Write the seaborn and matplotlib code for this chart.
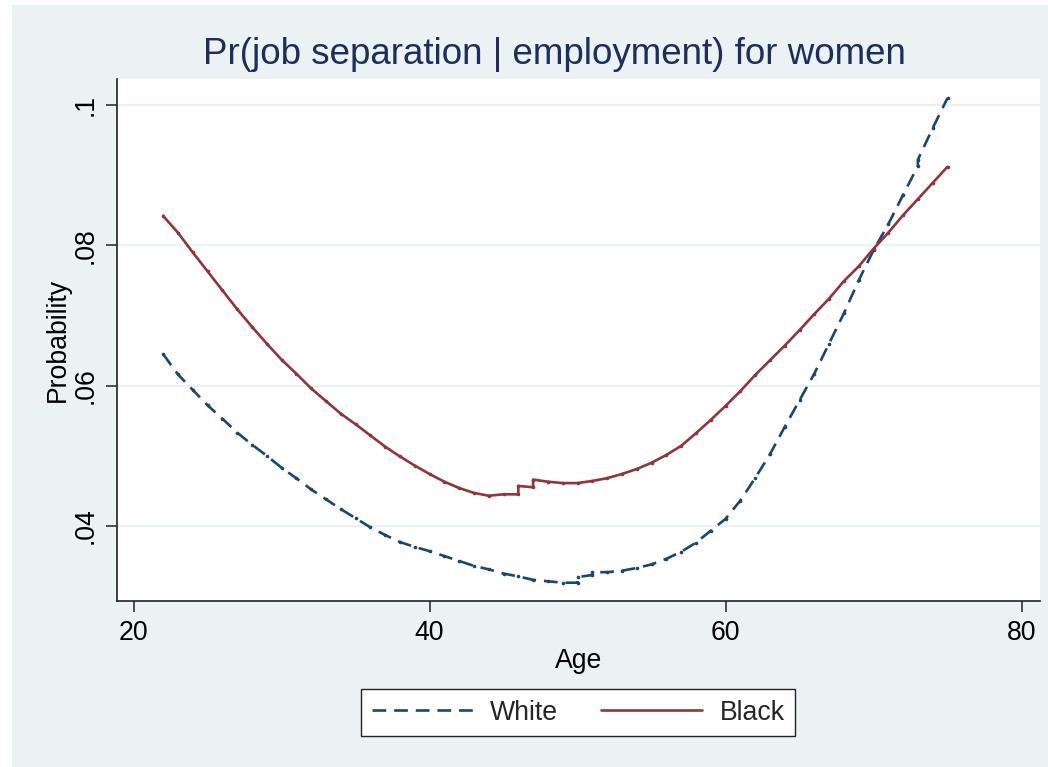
import matplotlib
matplotlib.use("Agg")
import matplotlib.pyplot as plt
import matplotlib.patches as mpatches
from matplotlib.lines import Line2D
import seaborn as sns
import pandas as pd

# ---- data ----
white_age = [22, 23, 24, 25, 26, 27, 28, 29, 30, 31, 32, 33, 34, 35, 36, 37, 38, 39, 40,
             41, 42, 43, 44, 45, 46, 47, 48, 49, 50, 50, 51, 51, 52, 53, 54, 55, 56, 57, 58,
             59, 60, 61, 62, 63, 64, 65, 66, 67, 68, 69, 70, 71, 72, 73, 73, 74, 75]
white_prob = [0.0645, 0.0616, 0.0594, 0.0572, 0.0553, 0.0533, 0.0516, 0.0500, 0.0483, 0.0468,
              0.0452, 0.0438, 0.0424, 0.0411, 0.0398, 0.0387, 0.0377, 0.0370, 0.0364,
              0.0357, 0.0350, 0.0343, 0.0338, 0.0332, 0.0328, 0.0323, 0.0321, 0.0319,
              0.0319, 0.0327, 0.0330, 0.0334, 0.0334, 0.0336, 0.0340, 0.0345, 0.0353,
              0.0363, 0.0376, 0.0393, 0.0410, 0.0436, 0.0468, 0.0502, 0.0541, 0.0579,
              0.0617, 0.0660, 0.0703, 0.0750, 0.0793, 0.0830, 0.0872, 0.0913, 0.0922,
              0.0967, 0.1010]

black_age = [22, 23, 24, 25, 26, 27, 28, 29, 30, 31, 32, 33, 34, 35, 36, 37, 38, 39, 40,
             41, 42, 43, 44, 45, 46, 46, 47, 47, 48, 49, 50, 51, 52, 53, 54, 55, 56, 57, 58,
             59, 60, 61, 62, 63, 64, 65, 66, 67, 68, 69, 70, 71, 72, 73, 74, 75]
black_prob = [0.0842, 0.0818, 0.0790, 0.0763, 0.0736, 0.0709, 0.0684, 0.0660, 0.0637,
              0.0617, 0.0596, 0.0578, 0.0560, 0.0545, 0.0529, 0.0513, 0.0499, 0.0486,
              0.0474, 0.0463, 0.0454, 0.0447, 0.0443, 0.0445, 0.0445, 0.0457, 0.0455,
              0.0466, 0.0463, 0.0461, 0.0461, 0.0464, 0.0468, 0.0474, 0.0481, 0.0490,
              0.0501, 0.0514, 0.0532, 0.0551, 0.0571, 0.0592, 0.0615, 0.0636, 0.0657,
              0.0679, 0.0702, 0.0724, 0.0749, 0.0770, 0.0795, 0.0818, 0.0843, 0.0866,
              0.0889, 0.0912]

x_ticks = [20, 40, 60, 80]
y_ticks = [0.04, 0.06, 0.08, 0.10]
y_tick_labels = [".04", ".06", ".08", ".1"]
series_names = ["White", "Black"]

# ---- style ----
sns.set_theme(style="white")
plt.rcParams["font.family"] = ["Liberation Sans", "DejaVu Sans"]

BG = "#EAF2F3"
BLUE = "#1A476F"
RED = "#90353B"
TITLE_C = "#1E2D5A"
FS = 19.2

W, H = 1048, 767
fig = plt.figure(figsize=(W / 100, H / 100), dpi=100)
fig.patch.set_facecolor("white")
fig.patches.append(mpatches.Rectangle((12 / W, 0), 1 - 12 / W, 1 - 5 / H,
                                      transform=fig.transFigure, facecolor=BG,
                                      edgecolor="none", zorder=-10))

ax = fig.add_axes([117 / W, 1 - 601 / H, (1040 - 117) / W, (601 - 79) / H])
ax.set_facecolor("white")

df_w = pd.DataFrame({"Age": white_age, "Probability": white_prob})
df_b = pd.DataFrame({"Age": black_age, "Probability": black_prob})

lw = 1.9
sns.lineplot(data=df_w, x="Age", y="Probability", ax=ax, color=BLUE, lw=lw,
             estimator=None, sort=False, marker="o", markersize=2.6,
             markeredgewidth=0, zorder=3)
ax.lines[-1].set_dashes((5.2, 3.0))
sns.lineplot(data=df_b, x="Age", y="Probability", ax=ax, color=RED, lw=lw,
             estimator=None, sort=False, marker="o", markersize=2.6,
             markeredgewidth=0, zorder=3)

ax.set_xlim(18.885, 81.25)
ax.set_ylim(0.02929, 0.10371)
ax.set_xticks(x_ticks)
ax.set_xticklabels([str(t) for t in x_ticks])
ax.set_yticks(y_ticks)
ax.set_yticklabels(y_tick_labels, rotation=90, va="center")

for yt in y_ticks:
    ax.axhline(yt, color=BG, lw=1.6, zorder=1)

for s in ["top", "right"]:
    ax.spines[s].set_visible(False)
for s in ["left", "bottom"]:
    ax.spines[s].set_color("#222222")
    ax.spines[s].set_linewidth(1.2)

ax.tick_params(axis="both", which="major", direction="out", length=8, width=1.2,
               color="#333333", labelsize=FS, labelcolor="black", pad=6)
ax.tick_params(axis="x", bottom=True)
ax.tick_params(axis="y", left=True, pad=5)

ax.set_xlabel("Age", fontsize=FS, color="black", labelpad=1)
ax.set_ylabel("Probability", fontsize=FS, color="black", labelpad=1.5)

fig.text(554 / W, 1 - 55 / H, "Pr(job separation | employment) for women",
         ha="center", va="center", fontsize=26.5, color=TITLE_C)

handles = [Line2D([0], [0], color=BLUE, lw=lw, dashes=(5.2, 3.0)),
           Line2D([0], [0], color=RED, lw=lw)]
leg = fig.legend(handles, series_names, loc="center",
                 bbox_to_anchor=(578 / W, 1 - 712.5 / H), ncol=2,
                 fontsize=FS, frameon=True, fancybox=False,
                 handlelength=3.8, handletextpad=0.65, columnspacing=1.6,
                 borderpad=0.4)
leg.get_frame().set_edgecolor("#222222")
leg.get_frame().set_linewidth(1.0)
leg.get_frame().set_facecolor("white")
leg.get_frame().set_alpha(1)

fig.savefig("out.png", dpi=100, facecolor=fig.get_facecolor())
